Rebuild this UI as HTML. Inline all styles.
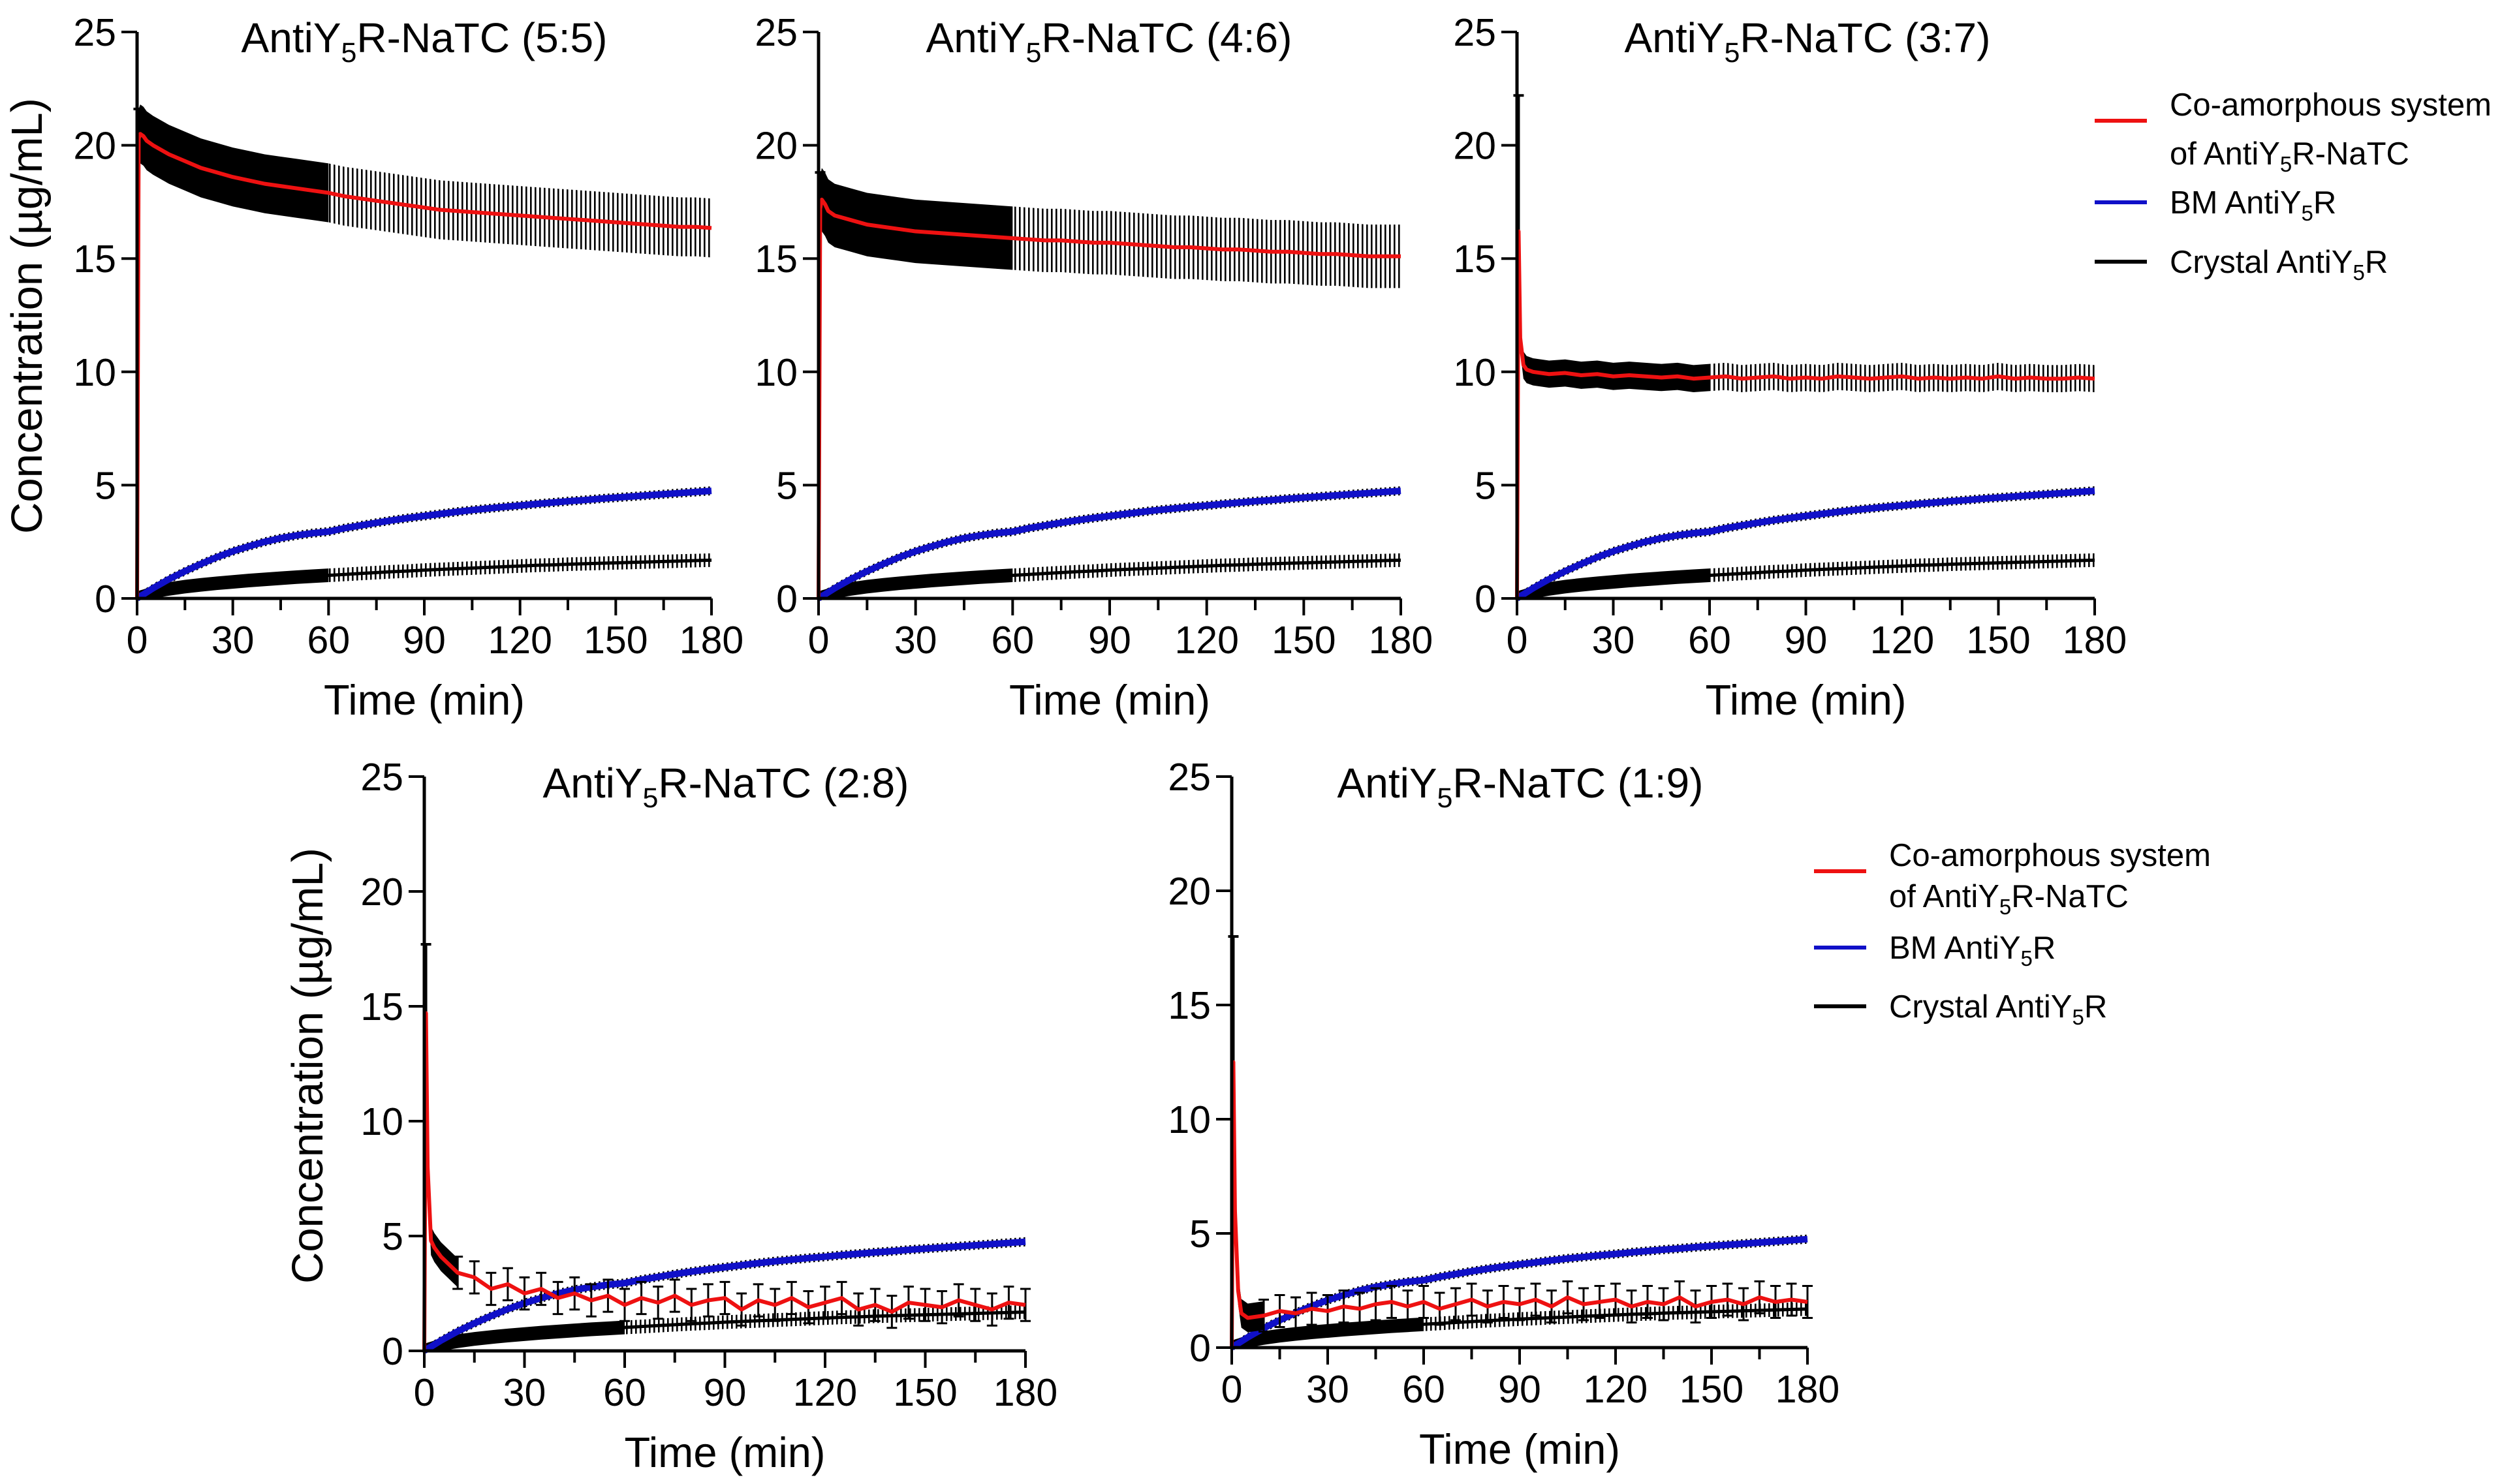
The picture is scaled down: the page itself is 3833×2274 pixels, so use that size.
<!DOCTYPE html>
<html><head><meta charset="utf-8"><style>
html,body{margin:0;padding:0;background:#fff;}
svg{display:block;font-family:"Liberation Sans",Arial,sans-serif;}
</style></head><body>
<svg id="fig" width="3833" height="2274" viewBox="0 0 3833 2274" xmlns="http://www.w3.org/2000/svg">
<defs>
<pattern id="hatch" patternUnits="userSpaceOnUse" width="7" height="10"><rect x="0" y="0" width="2.6" height="10" fill="#000"/></pattern>
</defs>
</svg>
<script>
// ---- data ----
const times = [0,0.5,1,2,3,5,10,15,20,25,30,35,40,45,50,55,60,65,70,75,80,85,90,95,100,105,110,115,120,125,130,135,140,145,150,155,160,165,170,175,180];
const blueBM = [0,0.05,0.1,0.18,0.27,0.45,0.85,1.2,1.52,1.82,2.08,2.3,2.5,2.66,2.78,2.88,2.95,3.1,3.22,3.34,3.45,3.55,3.64,3.73,3.82,3.9,3.97,4.04,4.1,4.17,4.23,4.29,4.34,4.4,4.45,4.5,4.55,4.6,4.65,4.7,4.75];
const crystal = [0,0.03,0.06,0.1,0.15,0.28,0.42,0.52,0.6,0.67,0.73,0.79,0.84,0.89,0.94,0.98,1.02,1.06,1.1,1.14,1.18,1.21,1.25,1.28,1.31,1.34,1.37,1.4,1.43,1.46,1.48,1.51,1.53,1.55,1.57,1.59,1.61,1.63,1.65,1.67,1.69];
const red55 = [0,20.3,20.5,20.4,20.2,20.0,19.6,19.3,19.0,18.8,18.6,18.45,18.3,18.2,18.1,18.0,17.9,17.75,17.65,17.55,17.45,17.35,17.25,17.15,17.1,17.05,17.0,16.95,16.9,16.85,16.8,16.75,16.7,16.65,16.6,16.55,16.5,16.45,16.4,16.4,16.35];
const red46 = [0,17.2,17.6,17.4,17.1,16.9,16.7,16.5,16.4,16.3,16.2,16.15,16.1,16.05,16.0,15.95,15.9,15.85,15.8,15.8,15.75,15.7,15.7,15.65,15.6,15.55,15.5,15.5,15.45,15.4,15.4,15.35,15.3,15.3,15.25,15.2,15.2,15.15,15.1,15.1,15.1];
const red37 = [0,16.2,11.5,10.3,10.1,10.0,9.9,9.95,9.85,9.9,9.8,9.85,9.8,9.75,9.8,9.7,9.75,9.8,9.7,9.75,9.8,9.7,9.75,9.7,9.8,9.75,9.7,9.75,9.8,9.7,9.75,9.7,9.75,9.7,9.8,9.7,9.75,9.7,9.7,9.75,9.7];
const red28 = [0,14.7,8,4.8,4.5,4.1,3.4,3.2,2.7,2.9,2.5,2.7,2.3,2.5,2.2,2.4,2.0,2.3,2.1,2.4,2.0,2.2,2.3,1.8,2.2,2.0,2.3,1.9,2.1,2.3,1.8,2.0,1.7,2.1,2.0,1.9,2.2,2.0,1.8,2.1,2.0];
const red19 = [0,12.5,6,2.5,1.5,1.3,1.4,1.6,1.5,1.7,1.6,1.8,1.7,1.9,2.0,1.8,2.0,1.7,1.9,2.1,1.8,2.0,1.9,2.1,1.8,2.2,1.9,2.0,2.1,1.8,2.0,1.9,2.2,1.8,2.0,2.1,1.9,2.2,2.0,2.1,2.0];
const redSd = [1.3,1.4,0.6,0.7,0.7];
const redPeakSd = [1.3,1.6,6,3,5.5];
const titles = ["(5:5)","(4:6)","(3:7)","(2:8)","(1:9)"];
const xTicks = [0,30,60,90,120,150,180];
const yTicks = [0,5,10,15,20,25];

const svg = document.getElementById('fig');
const NS = 'http://www.w3.org/2000/svg';
function mk(tag, attrs, parent){const e=document.createElementNS(NS,tag);for(const k in attrs)e.setAttribute(k,attrs[k]);(parent||svg).appendChild(e);return e;}

const panels = [
 {x0:210,x1:1090,y0:917,y1:49,red:red55,ylab:42,ylabY:484,tx:650,ty:80},
 {x0:1254,x1:2146,y0:917,y1:49,red:red46,ylab:null,tx:1699,ty:80},
 {x0:2324,x1:3209,y0:917,y1:49,red:red37,ylab:null,tx:2769,ty:80},
 {x0:650,x1:1571,y0:2070,y1:1190,red:red28,ylab:472,ylabY:1633,tx:1112,ty:1222},
 {x0:1887,x1:2769,y0:2065,y1:1190,red:red19,ylab:null,tx:2329,ty:1222}
];

function band(g, X, Y, vals, sd, tMin, tMax, fill){
  const up=[],dn=[];
  times.forEach((t,i)=>{ if(t>=tMin && t<=tMax){ up.push(X(t)+','+Y(vals[i]+sd)); dn.unshift(X(t)+','+Y(Math.max(0,vals[i]-sd))); }});
  const p=mk('polygon',{points:up.concat(dn).join(' '),fill:fill},g);
  
  
}
function line(g,X,Y,vals,color,w){
  const pts=times.map((t,i)=>X(t)+','+Y(vals[i])).join(' ');
  const l=mk('polyline',{points:pts,fill:'none',stroke:color,'stroke-width':w,'stroke-linejoin':'round'},g);
  return l;
}

panels.forEach((P,pi)=>{
  const X=t=>P.x0+(P.x1-P.x0)*t/180;
  const Y=v=>P.y0+(P.y1-P.y0)*v/25;
  const g=mk('g',{});
  
  
  // crystal
  band(g,X,Y,crystal,0.3,0,60,'#000');
  band(g,X,Y,crystal,0.3,60,180,'url(#hatch)');
  const cl=line(g,X,Y,crystal,'#000',5);
  
  
  // blue
  band(g,X,Y,blueBM,0.2,0,180,'url(#hatch)');
  const bl=line(g,X,Y,blueBM,'#1010c8',10);
  
  
  // red
  const sd=redSd[pi];
  if(pi<3){
    band(g,X,Y,P.red,sd,0.5,60,'#000');
    band(g,X,Y,P.red,sd,60,180,'url(#hatch)');
  } else {
    band(g,X,Y,P.red,sd*0.9,0.5,10,'#000');
    times.forEach((t,i)=>{ if(t>=10){
      const e=mk('path',{d:`M${X(t)},${Y(P.red[i]-sd)}V${Y(P.red[i]+sd)}M${X(t)-8},${Y(P.red[i]+sd)}h16M${X(t)-8},${Y(P.red[i]-sd)}h16`,stroke:'#000','stroke-width':3,fill:'none'},g);
      
      
    }});
  }
  // peak error bar
  const pk=mk('path',{d:`M${X(times[1])},${Y(P.red[1]-redPeakSd[pi])}V${Y(P.red[1]+redPeakSd[pi])}M${X(times[1])-8},${Y(P.red[1]+redPeakSd[pi])}h16`,stroke:'#000','stroke-width':4,fill:'none'},g);
  
  
  const rl=line(g,X,Y,P.red,'#ee1111',6);
  
  
  // axes
  const ax=mk('path',{d:`M${P.x0},${Y(25)}V${P.y0}H${P.x1}`,stroke:'#000','stroke-width':5,fill:'none'},g);
  
  
  for(let t=0;t<=180;t+=15){
    const tk=mk('line',{x1:X(t),x2:X(t),y1:P.y0,y2:P.y0+(t%30===0?26:18),stroke:'#000','stroke-width':4},g);
    
    
  }
  xTicks.forEach(t=>{
    const tx=mk('text',{x:X(t),y:P.y0+84,'font-size':59,'text-anchor':'middle'},g);
    tx.textContent=t;
    
    
  });
  yTicks.forEach(v=>{
    const tk=mk('line',{x1:P.x0-24,x2:P.x0,y1:Y(v),y2:Y(v),stroke:'#000','stroke-width':4},g);
    
    
    const tx=mk('text',{x:P.x0-32,y:Y(v)+21,'font-size':59,'text-anchor':'end'},g);
    tx.textContent=v;
    
    
  });
  const xt=mk('text',{x:(P.x0+P.x1)/2,y:P.y0+178,'font-size':65,'text-anchor':'middle'},g);
  xt.textContent='Time (min)';
  
  
  if(P.ylab){
    const yt=mk('text',{x:0,y:0,'font-size':67,'text-anchor':'middle',transform:`translate(${P.ylab+22},${P.ylabY}) rotate(-90)`},g);
    yt.textContent='Concentration (µg/mL)';
    
    
  }
  const ti=mk('text',{x:P.tx,y:P.ty,'font-size':64,'text-anchor':'middle'},g);
  ti.innerHTML='AntiY<tspan font-size="43" dy="15">5</tspan><tspan dy="-15">R-NaTC '+titles[pi]+'</tspan>';
  
  
});

// legends
function legend(lx,tx,ys){
  const g=mk('g',{});
  
  
  const items=[['#ee1111',ys[0]],['#1010c8',ys[2]],['#000',ys[3]]];
  items.forEach(it=>{
    const l=mk('line',{x1:lx,x2:lx+80,y1:it[1],y2:it[1],stroke:it[0],'stroke-width':6},g);
    
    
  });
  const t1=mk('text',{x:tx,y:ys[0]-8,'font-size':49},g);t1.textContent='Co-amorphous system';
  
  
  const t2=mk('text',{x:tx,y:ys[1]+17,'font-size':49},g);
  t2.innerHTML='of AntiY<tspan font-size="33" dy="11">5</tspan><tspan dy="-11">R-NaTC</tspan>';
  
  
  const t3=mk('text',{x:tx,y:ys[2]+17,'font-size':49},g);
  t3.innerHTML='BM AntiY<tspan font-size="33" dy="11">5</tspan><tspan dy="-11">R</tspan>';
  
  
  const t4=mk('text',{x:tx,y:ys[3]+17,'font-size':49},g);
  t4.innerHTML='Crystal AntiY<tspan font-size="33" dy="11">5</tspan><tspan dy="-11">R</tspan>';
  
  
}
legend(3209,3324,[185,235,310,401]);
legend(2779,2894,[1335,1373,1452,1542]);
</script>
</body></html>
